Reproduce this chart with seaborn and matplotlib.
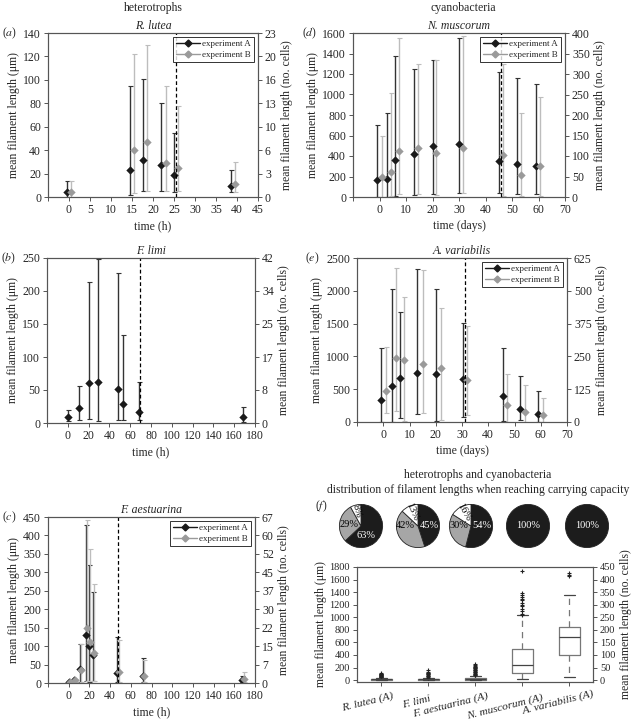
import matplotlib
matplotlib.use('Agg')
import matplotlib.pyplot as plt
import matplotlib.transforms as mtransforms
from matplotlib.lines import Line2D
import numpy as np
import seaborn as sns

sns.set_theme(style='ticks')
plt.rcParams['font.family'] = ['Liberation Serif', 'DejaVu Serif']
plt.rcParams['mathtext.fontset'] = 'stix'
plt.rcParams['font.size'] = 7.5

# ---------------- data ----------------
# (a) R. lutea
a_xA = [-0.5, 14.5, 17.5, 22, 25, 38.5]
a_mA = [4, 23, 32, 27, 19, 9]
a_loA = [0, 2, 5, 5, 4, 4]
a_hiA = [14, 95, 101, 80, 55, 23]
a_xB = [0.5, 15.5, 18.5, 23, 26, 39.5]
a_mB = [4, 40, 47, 29, 25, 11]
a_loB = [0, 3, 5, 5, 5, 4]
a_hiB = [14, 122, 130, 95, 78, 30]
a_yticks = [0, 20, 40, 60, 80, 100, 120, 140]
a_rlabels = ['0', '3', '6', '10', '13', '16', '20', '23']
a_xticks = [-5, 0, 5, 10, 15, 20, 25, 30, 35, 40, 45]

# (d) N. muscorum
d_xA = [-1, 3, 6, 13, 20, 30, 45, 52, 59]
d_mA = [170, 180, 360, 415, 495, 520, 355, 325, 300]
d_loA = [0, 0, 5, 15, 30, 40, 40, 25, 25]
d_hiA = [700, 820, 1380, 1245, 1335, 1550, 1220, 1165, 1100]
d_xB = [1, 4.5, 7.5, 14.5, 21.5, 31.5, 46.5, 53.5, 60.5]
d_mB = [195, 245, 445, 475, 430, 480, 405, 215, 300]
d_loB = [0, 5, 30, 30, 15, 35, 10, 5, 5]
d_hiB = [600, 1015, 1550, 1300, 1340, 1570, 1300, 820, 980]
d_yticks = [0, 200, 400, 600, 800, 1000, 1200, 1400, 1600]
d_rlabels = ['0', '50', '100', '150', '200', '250', '300', '350', '400']
d_xticks = [-10, 0, 10, 20, 30, 40, 50, 60, 70]

# (b) F. limi
b_xA = [0, 11, 20, 29, 48, 53, 68, 168]
b_mA = [9, 22, 61, 62, 51, 29, 16, 9]
b_loA = [3, 5, 6, 3, 5, 5, 4, 2]
b_hiA = [20, 56, 213, 248, 228, 133, 62, 24]
b_yticks = [0, 50, 100, 150, 200, 250]
b_rlabels = ['0', '8', '17', '25', '34', '42']
b_xticks = [-20, 0, 20, 40, 60, 80, 100, 120, 140, 160, 180]

# (e) A. variabilis
e_xA = [-1, 3.5, 6.5, 13, 20, 30.5, 45.5, 52, 59]
e_mA = [330, 550, 665, 750, 725, 660, 390, 195, 120]
e_loA = [0, 0, 60, 120, 10, 80, 20, 25, 0]
e_hiA = [1130, 2020, 1670, 2330, 2020, 1510, 1130, 700, 470]
e_xB = [1, 5, 8, 15, 22, 32, 47, 54, 61]
e_mB = [480, 970, 940, 890, 830, 640, 260, 160, 100]
e_loB = [130, 170, 20, 140, 30, 100, 0, 0, 0]
e_hiB = [1150, 2350, 1900, 2310, 1740, 1470, 730, 560, 360]
e_yticks = [0, 500, 1000, 1500, 2000, 2500]
e_rlabels = ['0', '125', '250', '375', '500', '625']
e_xticks = [-10, 0, 10, 20, 30, 40, 50, 60, 70]

# (c) F. aestuarina
c_xA = [0, 5, 11, 17, 20, 23, 47, 72, 167]
c_mA = [3, 7, 37, 131, 100, 75, 28, 20, 7]
c_loA = [0, 2, 2, 5, 3, 5, 3, 3, 2]
c_hiA = [5, 12, 106, 427, 320, 248, 125, 68, 18]
c_xB = [1, 6, 12, 18, 21, 24, 49, 73, 169]
c_mB = [2, 8, 35, 148, 110, 80, 30, 18, 10]
c_loB = [0, 2, 2, 5, 5, 5, 3, 3, 2]
c_hiB = [5, 12, 105, 443, 362, 268, 117, 62, 30]
c_yticks = [0, 50, 100, 150, 200, 250, 300, 350, 400, 450]
c_rlabels = ['0', '7', '15', '22', '30', '37', '45', '52', '60', '67']
c_xticks = [-20, 0, 20, 40, 60, 80, 100, 120, 140, 160, 180]

# (f) pies and boxes
pie_black = [63, 45, 54, 100, 100]
pie_grey = [29, 42, 30, 0, 0]
pie_white = [8, 13, 16, 0, 0]

box_names = ['R. lutea (A)', 'F. limi', 'F. aestuarina (A)', 'N. muscorum (A)', 'A. variabilis (A)']
box_med = [10, 10, 15, 245, 680]
box_q1 = [5, 5, 5, 115, 400]
box_q3 = [20, 15, 30, 490, 850]
box_lo = [0, 0, 0, 15, 50]
box_hi = [40, 35, 70, 1030, 1360]
box_fliers = [
    [45, 50, 55, 60, 65, 70, 75, 80, 85, 90, 95, 100, 110],
    [40, 50, 60, 70, 80, 90, 100, 110, 120, 130, 160],
    [75, 85, 95, 105, 115, 125, 135, 145, 155, 165, 175, 185, 195, 205, 215, 225, 240, 255],
    [1040, 1060, 1100, 1130, 1180, 1200, 1230, 1270, 1290, 1320, 1350, 1380, 1740],
    [1650, 1670, 1700],
]
box_yticks = [0, 200, 400, 600, 800, 1000, 1200, 1400, 1600, 1800]
box_rlabels = ['0', '50', '100', '150', '200', '250', '300', '350', '400', '450']

# ---------------- layout ----------------
W, H = 635, 725
fig = plt.figure(figsize=(W / 100, H / 100), dpi=100)

def px_axes(x0, y0, x1, y1):
    return fig.add_axes([x0 / W, 1 - y1 / H, (x1 - x0) / W, (y1 - y0) / H])

def ftext(x, y, s, **kw):
    fig.text(x / W, 1 - y / H, s, ha='center', va='center', **kw)

SPINE = '#555555'
COL_A, ERR_A = '#1a1a1a', '#333333'
COL_B, ERR_B = '#9a9a9a', '#bdbdbd'

def style_axes(ax):
    for s in ax.spines.values():
        s.set_color(SPINE)
        s.set_linewidth(0.8)
    ax.tick_params(direction='out', length=3, width=0.7, color=SPINE,
                   labelsize=8.5, pad=2)

def series(ax, x, m, lo, hi, col, ecol):
    yerr = [np.array(m) - np.array(lo), np.array(hi) - np.array(m)]
    ax.errorbar(x, m, yerr=yerr, fmt='none', ecolor=ecol, elinewidth=1.0,
                capsize=1.8, capthick=0.8, zorder=2)
    sns.scatterplot(x=x, y=m, ax=ax, marker='D', s=18, color=col,
                    edgecolor=col, linewidth=0, zorder=3, legend=False)

def panel(box, title, xticks, yticks, rlabels, sA, sB, vline, xlabel, legend_on):
    ax = px_axes(*box)
    style_axes(ax)
    series(ax, *sA, COL_A, ERR_A)
    if sB is not None:
        series(ax, *sB, COL_B, ERR_B)
    ax.axvline(vline, color='black', linestyle=(0, (3, 2)), linewidth=0.9, zorder=4)
    ax.set_xlim(xticks[0], xticks[-1])
    ax.set_xticks(xticks)
    ax.set_xticklabels([''] + [str(t) for t in xticks[1:]])
    ax.set_ylim(yticks[0], yticks[-1])
    ax.set_yticks(yticks)
    ax.set_yticklabels([str(t) for t in yticks])
    ax.set_title(title, style='italic', fontsize=8.5, pad=3)
    ax.set_xlabel(xlabel, fontsize=8.5, labelpad=3)
    ax.set_ylabel('mean filament length (\u03bcm)', fontsize=8.5, labelpad=2)
    ax2 = ax.twinx()
    style_axes(ax2)
    ax2.set_ylim(yticks[0], yticks[-1])
    ax2.set_yticks(yticks)
    ax2.set_yticklabels(rlabels)
    ax2.set_ylabel('mean filament length (no. cells)', fontsize=8.5, labelpad=3)
    if legend_on:
        handles = [Line2D([], [], color=COL_A, marker='D', markersize=3.5, lw=1.0),
                   Line2D([], [], color=COL_B, marker='D', markersize=3.5, lw=1.0)]
        leg = ax2.legend(handles, ['experiment A', 'experiment B'], loc='upper right',
                         fontsize=6.5, frameon=True, fancybox=False, handlelength=2.6,
                         borderpad=0.35, labelspacing=0.25, handletextpad=0.3,
                         borderaxespad=0.4)
        leg.get_frame().set_edgecolor('black')
        leg.get_frame().set_linewidth(0.7)
    return ax

panel((48, 33, 258, 197), 'R. lutea', a_xticks, a_yticks, a_rlabels,
      (a_xA, a_mA, a_loA, a_hiA), (a_xB, a_mB, a_loB, a_hiB), 25.5, 'time (h)', True)
panel((353, 33, 565, 197), 'N. muscorum', d_xticks, d_yticks, d_rlabels,
      (d_xA, d_mA, d_loA, d_hiA), (d_xB, d_mB, d_loB, d_hiB), 46, 'time (days)', True)
panel((47, 258, 255, 423), 'F. limi', b_xticks, b_yticks, b_rlabels,
      (b_xA, b_mA, b_loA, b_hiA), None, 69, 'time (h)', False)
panel((357, 258, 567, 422), 'A. variabilis', e_xticks, e_yticks, e_rlabels,
      (e_xA, e_mA, e_loA, e_hiA), (e_xB, e_mB, e_loB, e_hiB), 31, 'time (days)', True)
panel((48, 517, 255, 683), 'F. aestuarina', c_xticks, c_yticks, c_rlabels,
      (c_xA, c_mA, c_loA, c_hiA), (c_xB, c_mB, c_loB, c_hiB), 48, 'time (h)', True)

# headings and panel letters
ftext(153, 8, 'heterotrophs', fontsize=8.5)
ftext(463, 8, 'cyanobacteria', fontsize=8.5)
ftext(478, 475, 'heterotrophs and cyanobacteria', fontsize=8.5)
ftext(478, 490, 'distribution of filament lengths when reaching carrying capacity', fontsize=8.5)
for lab, x, y in [('a', 10, 33), ('d', 310, 33), ('b', 9, 258), ('e', 312, 258),
                  ('c', 9, 517), ('f', 321, 506)]:
    ftext(x, y, r'($\it{%s}$)' % lab, fontsize=8.5)

# ---------------- pies ----------------
pie_cx = [361, 418, 471, 528, 587]
black_ang = [-62, 0, 0]      # label placement angles (degrees)
grey_ang = [175, 180, 180]
R = 27
for i, cx in enumerate(pie_cx):
    pax = px_axes(cx - R, 526 - R, cx + R, 526 + R)
    vals, cols, tcols = [], [], []
    for v, c, tc in [(pie_black[i], '#1c1c1c', 'white'), (pie_grey[i], '#a6a6a6', 'black'),
                     (pie_white[i], 'white', 'black')]:
        if v > 0:
            vals.append(v); cols.append(c); tcols.append(tc)
    wedges, texts = pax.pie(vals, colors=cols, startangle=90, counterclock=False,
                            labels=['%d%%' % v for v in vals], labeldistance=0.6,
                            wedgeprops=dict(edgecolor='#222222', linewidth=0.6),
                            textprops=dict(fontsize=7.5))
    for j, (w, t, tc, v) in enumerate(zip(wedges, texts, tcols, vals)):
        t.set_color(tc)
        t.set_ha('center'); t.set_va('center')
        if v == 100:
            t.set_position((0, 0))
            continue
        if j == 0:
            ang, r = black_ang[i], 0.52
        elif j == 1:
            ang, r = grey_ang[i], 0.57
        else:
            ang = (w.theta1 + w.theta2) / 2
            r = 0.72
            t.set_rotation(ang - 180)
        t.set_position((r * np.cos(np.radians(ang)), r * np.sin(np.radians(ang))))
    pax.set_aspect('equal')

# ---------------- boxes ----------------
bax = px_axes(357, 567, 593, 682)
style_axes(bax)
stats = []
for k in range(len(box_names)):
    stats.append(dict(med=box_med[k], q1=box_q1[k], q3=box_q3[k], whislo=box_lo[k],
                      whishi=box_hi[k], fliers=box_fliers[k], label=box_names[k]))
bax.bxp(stats, positions=[1, 2, 3, 4, 5], widths=0.45, showfliers=True,
        boxprops=dict(color='#777777', linewidth=0.9),
        medianprops=dict(color='#444444', linewidth=0.9),
        whiskerprops=dict(color='#777777', linewidth=0.9, linestyle=(0, (5, 4))),
        capprops=dict(color='#444444', linewidth=0.9),
        flierprops=dict(marker='+', markersize=3.5, markeredgecolor='#222222',
                        markeredgewidth=0.8))
bax.set_xlim(0.48, 5.5)
bax.set_ylim(-30, 1800)
bax.set_yticks(box_yticks)
bax.set_yticklabels([str(t) for t in box_yticks])
bax.tick_params(axis='y', labelsize=7.5)
bax.set_xticks([1, 2, 3, 4, 5])
bax.set_xticklabels(box_names, rotation=14, ha='center', style='italic', fontsize=8.2)
# staggered label offsets in pixels (dx, dy)
label_shift = [(-14, -2), (-12, -5), (-25, -2), (-18, -4), (-11, 0)]
for t, (dx, dy) in zip(bax.get_xticklabels(), label_shift):
    t.set_transform(t.get_transform() +
                    mtransforms.ScaledTranslation(dx / 100, dy / 100, fig.dpi_scale_trans))
bax.set_ylabel('mean filament length (\u03bcm)', fontsize=8.5, labelpad=2)
bax2 = bax.twinx()
style_axes(bax2)
bax2.set_ylim(-30, 1800)
bax2.set_yticks(box_yticks)
bax2.set_yticklabels(box_rlabels)
bax2.tick_params(axis='y', labelsize=7.5)
bax2.set_ylabel('mean filament length (no. cells)', fontsize=8.5, labelpad=3)

fig.savefig('out.png', dpi=100)
